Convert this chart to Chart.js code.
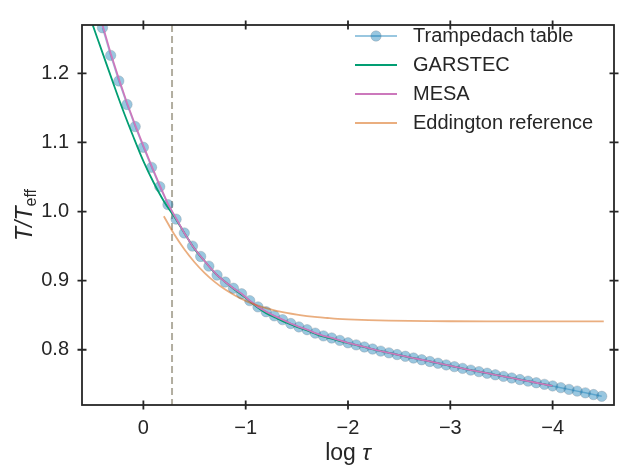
<!DOCTYPE html>
<html>
<head>
<meta charset="utf-8">
<script src="https://cdn.jsdelivr.net/npm/chart.js@4.4.1/dist/chart.umd.min.js"></script>
<style>
  html, body { margin: 0; padding: 0; background: #fff; }
</style>
</head>
<body>
<canvas id="tauChart" width="623" height="466"></canvas>
<script>
// tick labels
const xTicks = [0, -1, -2, -3, -4];
const yTicks = [0.8, 0.9, 1.0, 1.1, 1.2];
const photosphereLogTau = -0.28;

// Trampedach table
const trampLogTau = [0.40, 0.32, 0.24, 0.16, 0.08, 0.00, -0.08, -0.16, -0.24, -0.32,
  -0.40, -0.48, -0.56, -0.64, -0.72, -0.80, -0.88, -0.96, -1.04, -1.12,
  -1.20, -1.28, -1.36, -1.44, -1.52, -1.60, -1.68, -1.76, -1.84, -1.92,
  -2.00, -2.08, -2.16, -2.24, -2.32, -2.40, -2.48, -2.56, -2.64, -2.72,
  -2.80, -2.88, -2.96, -3.04, -3.12, -3.20, -3.28, -3.36, -3.44, -3.52,
  -3.60, -3.68, -3.76, -3.84, -3.92, -4.00, -4.08, -4.16, -4.24, -4.32,
  -4.40, -4.48];
const trampT = [1.266, 1.226, 1.189, 1.155, 1.123, 1.093, 1.064, 1.036, 1.010, 0.989,
  0.969, 0.950, 0.935, 0.921, 0.908, 0.898, 0.889, 0.881, 0.871, 0.862,
  0.855, 0.849, 0.8435, 0.838, 0.833, 0.829, 0.824, 0.820, 0.817, 0.8135,
  0.810, 0.807, 0.804, 0.801, 0.798, 0.7955, 0.793, 0.7905, 0.788, 0.7855,
  0.783, 0.7805, 0.778, 0.7755, 0.773, 0.7705, 0.7683, 0.766, 0.7637, 0.7614,
  0.7591, 0.7568, 0.7545, 0.7522, 0.7499, 0.7476, 0.7451, 0.7426, 0.7401, 0.7376,
  0.7351, 0.7326];

// GARSTEC
const garLogTau = [0.5, 0.4, 0.3, 0.2, 0.1, 0.0, -0.1, -0.2, -0.3, -0.4,
  -0.5, -0.6, -0.7, -0.8, -0.9, -1.0, -1.1, -1.2, -1.3, -1.4,
  -1.5, -1.6, -1.7, -1.8, -1.9, -2.0, -2.1, -2.2, -2.3, -2.4,
  -2.5, -2.6, -2.7, -2.8, -2.9, -3.0, -3.1, -3.2, -3.3, -3.4,
  -3.5, -3.6, -3.7, -3.8, -3.9, -4.0];
const garT = [1.272, 1.230, 1.188, 1.147, 1.109, 1.073, 1.042, 1.015, 0.993, 0.969,
  0.946, 0.928, 0.911, 0.898, 0.886, 0.875, 0.863, 0.853, 0.846, 0.839,
  0.833, 0.828, 0.822, 0.8175, 0.8135, 0.8095, 0.806, 0.8022, 0.7986, 0.7953,
  0.7922, 0.7891, 0.786, 0.783, 0.7799, 0.7768, 0.7736, 0.7705, 0.7677, 0.7649,
  0.762, 0.7591, 0.7562, 0.7534, 0.7505, 0.7476];

// MESA (same tau grid as the table, down to log tau = -4)
const mesaT = [1.270, 1.229, 1.192, 1.157, 1.125, 1.095, 1.066, 1.038, 1.011, 0.990,
  0.969, 0.950, 0.935, 0.921, 0.908, 0.898, 0.889, 0.881, 0.871, 0.862,
  0.855, 0.849, 0.8435, 0.838, 0.833, 0.829, 0.824, 0.820, 0.817, 0.8135,
  0.810, 0.807, 0.804, 0.801, 0.798, 0.7955, 0.793, 0.7905, 0.788, 0.7855,
  0.783, 0.7805, 0.778, 0.7755, 0.773, 0.7705, 0.7683, 0.766, 0.7637, 0.7614,
  0.7591, 0.7568, 0.7545, 0.7522, 0.7499, 0.7476];

// Eddington reference
const eddLogTau = [-0.2, -0.3, -0.4, -0.5, -0.6, -0.7, -0.8, -0.9, -1.0, -1.1,
  -1.2, -1.3, -1.4, -1.5, -1.6, -1.7, -1.8, -1.9, -2.0,
  -2.2, -2.4, -2.6, -2.8, -3.0, -3.5, -4.0, -4.5];
const eddT = [0.9932, 0.9674, 0.9453, 0.9266, 0.9109, 0.8978, 0.8870, 0.8781, 0.8708, 0.8649,
  0.8601, 0.8563, 0.8532, 0.8507, 0.8487, 0.8471, 0.8459, 0.8448, 0.8440,
  0.8429, 0.8422, 0.8417, 0.8414, 0.8412, 0.8410, 0.8409, 0.8409];

const INK = '#262626';
const FONT = "'Liberation Sans', Arial, sans-serif";
const MARKER_FILL = 'rgba(1,115,178,0.4)';
const MARKER_EDGE = 'rgba(120,130,140,0.3)';

function pts(xs, ys) {
    return ys.map((y, i) => ({ x: xs[i], y: y }));
}

const series = [
    { label: 'Trampedach table', color: 'rgba(1,115,178,0.4)', marker: true },
    { label: 'GARSTEC', color: '#029e73' },
    { label: 'MESA', color: '#cc78bc' },
    { label: 'Eddington reference', color: 'rgba(213,94,0,0.5)' }
];

// dashed line, frame, inout ticks, axis titles and legend
const decorations = {
    id: 'decorations',
    beforeDatasetsDraw(chart) {
        const ctx = chart.ctx, a = chart.chartArea;
        const x = chart.scales.x.getPixelForValue(photosphereLogTau);
        ctx.save();
        ctx.strokeStyle = 'rgb(178,174,160)';
        ctx.lineWidth = 2;
        ctx.setLineDash([7, 4]);
        ctx.beginPath();
        ctx.moveTo(x, a.top);
        ctx.lineTo(x, a.bottom);
        ctx.stroke();
        ctx.restore();
    },
    afterDraw(chart) {
        const ctx = chart.ctx, a = chart.chartArea;
        const sx = chart.scales.x, sy = chart.scales.y;
        ctx.save();
        ctx.strokeStyle = INK;
        ctx.lineWidth = 1.8;
        ctx.strokeRect(a.left, a.top, a.right - a.left, a.bottom - a.top);
        ctx.beginPath();
        xTicks.forEach(v => {
            const px = sx.getPixelForValue(v);
            ctx.moveTo(px, a.bottom - 4.5); ctx.lineTo(px, a.bottom + 4.5);
            ctx.moveTo(px, a.top - 4.5); ctx.lineTo(px, a.top + 4.5);
        });
        yTicks.forEach(v => {
            const py = sy.getPixelForValue(v);
            ctx.moveTo(a.left - 4.5, py); ctx.lineTo(a.left + 4.5, py);
            ctx.moveTo(a.right - 4.5, py); ctx.lineTo(a.right + 4.5, py);
        });
        ctx.stroke();

        // x title: log tau
        ctx.fillStyle = INK;
        ctx.textBaseline = 'alphabetic';
        ctx.textAlign = 'left';
        const cx = (a.left + a.right) / 2;
        ctx.font = '23px ' + FONT;
        const w1 = ctx.measureText('log ').width;
        ctx.font = 'italic 23px ' + FONT;
        const w2 = ctx.measureText('\u03c4').width;
        let x0 = cx - (w1 + w2) / 2;
        ctx.font = '23px ' + FONT;
        ctx.fillText('log ', x0, 460);
        ctx.font = 'italic 23px ' + FONT;
        ctx.fillText('\u03c4', x0 + w1, 460);

        // y title: T/T_eff
        ctx.save();
        ctx.translate(32, (a.top + a.bottom) / 2);
        ctx.rotate(-Math.PI / 2);
        ctx.font = 'italic 23px ' + FONT;
        const m1 = ctx.measureText('T/T').width;
        ctx.font = '16px ' + FONT;
        const m2 = ctx.measureText('eff').width;
        const y0 = -(m1 + m2) / 2;
        ctx.font = 'italic 23px ' + FONT;
        ctx.fillText('T/T', y0, 0);
        ctx.font = '16px ' + FONT;
        ctx.fillText('eff', y0 + m1, 4);
        ctx.restore();

        // legend
        ctx.font = '20px ' + FONT;
        ctx.textBaseline = 'middle';
        series.forEach((s, i) => {
            const ly = 36 + i * 29;
            ctx.strokeStyle = s.color;
            ctx.lineWidth = 1.8;
            ctx.beginPath();
            ctx.moveTo(355, ly); ctx.lineTo(397, ly);
            ctx.stroke();
            if (s.marker) {
                ctx.beginPath();
                ctx.arc(376, ly, 5.2, 0, Math.PI * 2);
                ctx.fillStyle = MARKER_FILL;
                ctx.fill();
                ctx.strokeStyle = MARKER_EDGE;
                ctx.lineWidth = 1;
                ctx.stroke();
            }
            ctx.fillStyle = INK;
            ctx.fillText(s.label, 413, ly);
        });
        ctx.restore();
    }
};

const ctx = document.getElementById('tauChart').getContext('2d');
const tauChart = new Chart(ctx, {
    type: 'scatter',
    data: {
        datasets: [{
            label: series[0].label,
            data: pts(trampLogTau, trampT),
            showLine: true,
            borderColor: series[0].color,
            borderWidth: 1.5,
            pointRadius: 5.2,
            pointBackgroundColor: MARKER_FILL,
            pointBorderColor: MARKER_EDGE,
            pointBorderWidth: 1,
            clip: 0,
            order: 4
        }, {
            label: series[1].label,
            data: pts(garLogTau, garT),
            showLine: true,
            borderColor: series[1].color,
            borderWidth: 1.8,
            pointRadius: 0,
            cubicInterpolationMode: 'monotone',
            clip: 0,
            order: 3
        }, {
            label: series[2].label,
            data: pts(trampLogTau, mesaT),
            showLine: true,
            borderColor: series[2].color,
            borderWidth: 1.8,
            pointRadius: 0,
            clip: 0,
            order: 2
        }, {
            label: series[3].label,
            data: pts(eddLogTau, eddT),
            showLine: true,
            borderColor: series[3].color,
            borderWidth: 1.8,
            pointRadius: 0,
            cubicInterpolationMode: 'monotone',
            clip: 0,
            order: 1
        }]
    },
    options: {
        responsive: false,
        devicePixelRatio: 1,
        animation: false,
        layout: { padding: { top: 10, right: 9, left: 0, bottom: 0 } },
        plugins: { legend: { display: false }, tooltip: { enabled: false } },
        scales: {
            x: {
                type: 'linear',
                reverse: true,
                min: -4.6,
                max: 0.6,
                afterBuildTicks: s => { s.ticks = xTicks.map(v => ({ value: v })); },
                afterFit: s => { s.height = 61; },
                grid: { display: false, drawTicks: false },
                border: { display: false },
                ticks: {
                    autoSkip: false,
                    maxRotation: 0,
                    padding: 11,
                    color: INK,
                    font: { family: FONT, size: 20 },
                    callback: v => v < 0 ? '\u2212' + Math.abs(v) : String(v)
                }
            },
            y: {
                type: 'linear',
                min: 0.72,
                max: 1.27,
                afterBuildTicks: s => { s.ticks = yTicks.map(v => ({ value: v })); },
                afterFit: s => { s.width = 82; },
                grid: { display: false, drawTicks: false },
                border: { display: false },
                ticks: {
                    autoSkip: false,
                    padding: 13,
                    color: INK,
                    font: { family: FONT, size: 20 },
                    callback: v => v.toFixed(1)
                }
            }
        }
    },
    plugins: [decorations]
});
</script>
</body>
</html>
